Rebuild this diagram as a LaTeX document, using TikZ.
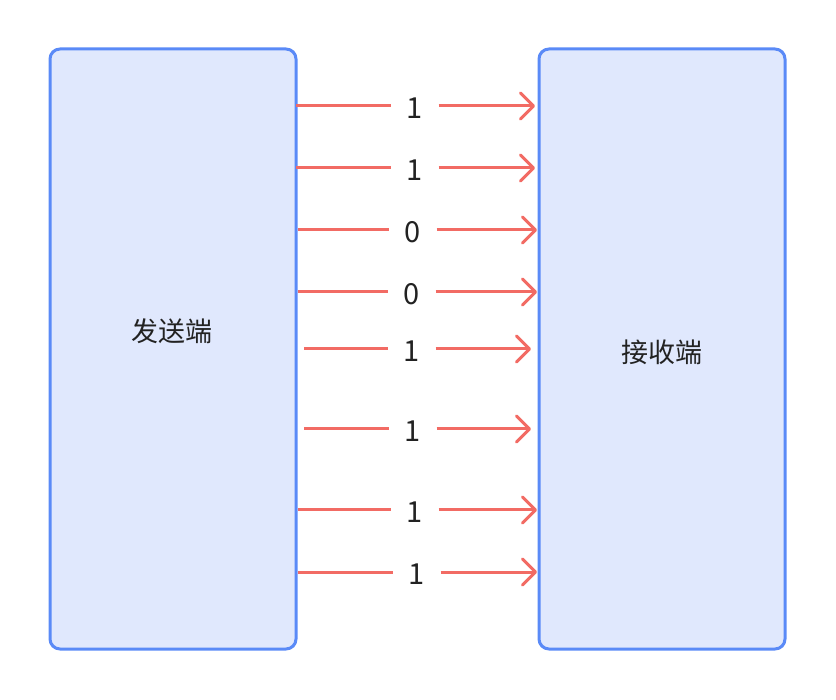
\documentclass[tikz,border=0pt]{standalone}
\usepackage{fontspec}
\setmainfont{Noto Sans CJK SC}
\usetikzlibrary{arrows.meta}
\definecolor{boxline}{HTML}{5A8AF7}
\definecolor{boxfill}{HTML}{E0E8FD}
\definecolor{arrowred}{HTML}{F26B64}
\definecolor{txt}{HTML}{222222}
\tikzset{
  endbox/.style={draw=boxline, fill=boxfill, line width=3pt, rounded corners=10pt,
    minimum width=246pt, minimum height=600pt, inner sep=0pt},
  boxlabel/.style={text=txt, font=\fontsize{27}{30}\selectfont, inner sep=0pt},
  bitlabel/.style={text=txt, font=\fontsize{29}{32}\selectfont, inner sep=0pt,
    minimum width=47pt, minimum height=20pt, yshift=-2pt},
  bitline/.style={draw=arrowred, line width=3pt},
  bitarrow/.style={draw=arrowred, line width=3pt,
    -{Straight Barb[length=13pt,width=26pt,round]}},
}
\begin{document}
\begin{tikzpicture}[x=1pt,y=-1pt]
\useasboundingbox (0,0) rectangle (836,700);
\node[endbox] (send) at (173,349) {};
\node[endbox] (recv) at (662,349) {};
\node[boxlabel] (sendlab) at (172,331) {发送端};
\node[boxlabel] (recvlab) at (662,352) {接收端};
\foreach \i/\y/\s/\c/\e/\b in {1/106/296/415/535/1, 2/168/296/415/535/1, 3/230/298/413/537/0, 4/292/298/412/537/0, 5/349/304/412/531/1, 6/429/304/413/531/1, 7/510/298/415/537/1, 8/572/298/417/537/1}{
  \coordinate (s\i) at (\s,\y);
  \coordinate (e\i) at (\e,\y);
  \node[bitlabel] (b\i) at (\c,\y) {\b};
  \draw[bitline] (s\i) -- (s\i -| b\i.west);
  \draw[bitarrow] (e\i -| b\i.east) -- (e\i);
}
\end{tikzpicture}
\end{document}
